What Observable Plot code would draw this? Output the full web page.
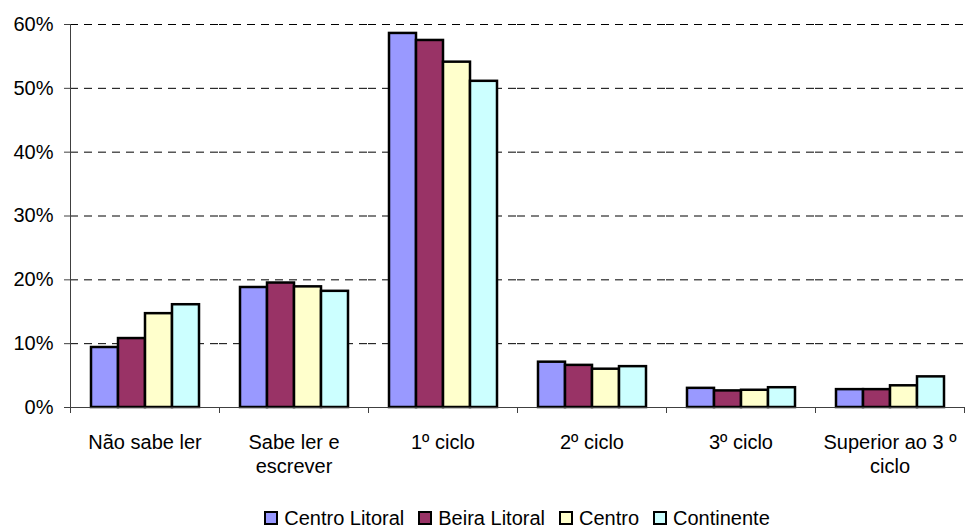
<!DOCTYPE html>
<html>
<head>
<meta charset="utf-8">
<script src="https://cdn.jsdelivr.net/npm/d3@7"></script>
<script src="https://cdn.jsdelivr.net/npm/@observablehq/plot@0.6"></script>
<style>
  body { margin: 0; background: #fff; font-family: "Liberation Sans", Arial, sans-serif; }
  #wrap { width: 968px; }
  #legend { display: flex; justify-content: center; align-items: center; padding-left: 70px; padding-right: 4px;
            font-size: 20px; color: #000; margin-top: 10px; line-height: 20px; }
  .item { display: flex; align-items: center; margin: 0 7px; }
  .sw { width: 10px; height: 10px; border: 2px solid #000; margin-right: 6px; }
</style>
</head>
<body>
<div id="wrap"><div id="chart"></div><div id="legend"></div></div>
<script>
// ---- data ----
const categories = ["Não sabe ler", "Sabe ler e escrever", "1º ciclo", "2º ciclo", "3º ciclo", "Superior ao 3 º ciclo"];
const tickLabels = ["Não sabe ler", "Sabe ler e\nescrever", "1º ciclo", "2º ciclo", "3º ciclo", "Superior ao 3 º\nciclo"];
const seriesNames = ["Centro Litoral", "Beira Litoral", "Centro", "Continente"];
const centroLitoral = [9.4, 18.8, 58.6, 7.1, 3.0, 2.8];
const beiraLitoral  = [10.8, 19.5, 57.5, 6.6, 2.6, 2.8];
const centro        = [14.7, 18.9, 54.1, 6.0, 2.7, 3.4];
const continente    = [16.1, 18.2, 51.1, 6.4, 3.1, 4.8];
const yTicks = [0, 10, 20, 30, 40, 50, 60];
const colors = ["#9999FF", "#993366", "#FFFFCC", "#CCFFFF"];

const seriesValues = [centroLitoral, beiraLitoral, centro, continente];
const data = categories.flatMap((c, i) =>
  seriesNames.map((s, j) => ({category: c, series: s, value: seriesValues[j][i]})));

// ---- layout ----
const W = 968, H = 498, ML = 70, MR = 4, MT = 24, MB = H - 407;
const step = (W - ML - MR) / categories.length;
const axisColor = "#404040";

const chart = Plot.plot({
  width: W, height: H,
  marginLeft: ML, marginRight: MR, marginTop: MT, marginBottom: MB,
  style: {fontFamily: '"Liberation Sans", Arial, sans-serif', fontSize: "20px", color: "#000", background: "#fff", overflow: "visible"},
  fx: {domain: categories, paddingInner: 0, paddingOuter: 0, axis: null, label: null},
  x: {domain: seriesNames, paddingInner: 0, paddingOuter: 0.74, axis: null, label: null},
  y: {domain: [0, 60], axis: null, label: null},
  color: {domain: seriesNames, range: colors},
  marks: [
    Plot.gridY(yTicks.filter(d => d > 0), {stroke: "#000", strokeOpacity: 1, strokeWidth: 1, strokeDasharray: "8,6"}),
    Plot.barY(data, {fx: "category", x: "series", y: "value", fill: "series", stroke: "#000", strokeWidth: 2.5}),
    Plot.ruleY([0], {stroke: axisColor}),
    Plot.frame({anchor: "left", facetAnchor: "left", stroke: axisColor}),
    Plot.axisY({ticks: yTicks, tickFormat: d => d + "%", tickSize: 6, tickPadding: 11, stroke: axisColor, fill: "#000", label: null}),
    Plot.axisFx({anchor: "bottom", tickSize: 0, tickPadding: 24, lineHeight: 1.2, fill: "#000", label: null,
                 tickFormat: d => tickLabels[categories.indexOf(d)]}),
    Plot.axisFx({anchor: "bottom", tickSize: 6, tickFormat: () => "", dx: -step / 2, stroke: axisColor, label: null}),
    Plot.axisFx({anchor: "bottom", ticks: [categories[categories.length - 1]], tickSize: 6, tickFormat: () => "", dx: step / 2, stroke: axisColor, label: null})
  ]
});
document.getElementById("chart").appendChild(chart);

const legend = document.getElementById("legend");
seriesNames.forEach((s, j) => {
  const it = document.createElement("div");
  it.className = "item";
  const sw = document.createElement("div");
  sw.className = "sw";
  sw.style.background = colors[j];
  const t = document.createElement("span");
  t.textContent = s;
  it.appendChild(sw); it.appendChild(t);
  legend.appendChild(it);
});
</script>
</body>
</html>
